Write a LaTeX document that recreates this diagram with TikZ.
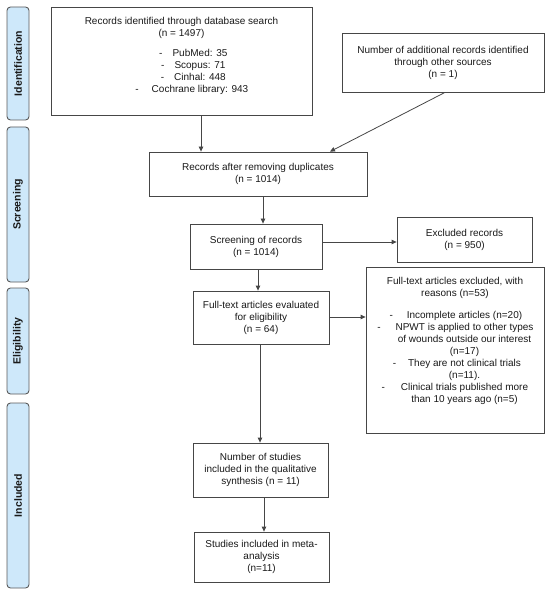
\documentclass[tikz,border=0pt]{standalone}
\usepackage{fontspec}
\setmainfont{Liberation Sans}
\usetikzlibrary{arrows.meta}
\definecolor{sidefill}{RGB}{206,232,250}
\definecolor{sideline}{RGB}{90,90,90}
\definecolor{boxline}{RGB}{70,70,70}
\definecolor{txtcol}{RGB}{25,25,25}
\newcommand{\pitem}[2]{\hspace*{#1pt}\llap{-\hspace{#2pt}}}
\tikzset{
  box/.style={draw=boxline, line width=0.8pt, inner sep=0pt, align=center,
    font=\fontsize{10}{12}\selectfont, text=txtcol},
  txt/.style={inner sep=0pt, align=center, font=\fontsize{10}{12}\selectfont, text=txtcol},
  side/.style={draw=sideline, fill=sidefill, line width=0.9pt, rounded corners=3.5pt,
    rotate=90, minimum height=22pt, inner sep=0pt,
    font=\fontsize{10.5}{12}\selectfont\bfseries, text=txtcol},
  arr/.style={draw=boxline, line width=0.8pt, -{Triangle[length=5pt,width=4.5pt]}}
}
\begin{document}
\begin{tikzpicture}[x=1pt,y=-1pt]
\useasboundingbox (0,0) rectangle (550,593);
% side labels
\node[side, minimum width=113pt] (s1) at (18,63.5) {Identification};
\node[side, minimum width=155pt] (s2) at (18,204.5) {Screening};
\node[side, minimum width=106pt] (s3) at (18,341) {Eligibility};
\node[side, minimum width=185pt] (s4) at (18,495.5) {Included};
% boxes
\node[box, minimum width=261pt, minimum height=108pt] (b1) at (181.5,61) {};
\node[txt, anchor=north] (b1t) at ([yshift=-10pt]b1.north) {Records identified through database search\\(n = 1497)\\[8pt]
\pitem{37}{10}PubMed: 35\\
\pitem{37}{10}Scopus: 71\\
\pitem{37}{10}Cinhal: 448\\
\pitem{37}{13}Cochrane library: 943};
\node[box, minimum width=202pt, minimum height=59pt] (b2) at (443,62.5) {Number of additional records identified\\through other sources\\(n = 1)};
\node[box, minimum width=218pt, minimum height=44pt] (b3) at (258,174) {Records after removing duplicates\\(n = 1014)};
\node[box, minimum width=132pt, minimum height=45pt] (b4) at (256,246.5) {Screening of records\\(n = 1014)};
\node[box, minimum width=136pt, minimum height=53pt] (b5) at (261,317.5) {Full-text articles evaluated\\for eligibility\\(n = 64)};
\node[box, minimum width=135pt, minimum height=45pt] (ex) at (464.5,239.5) {Excluded records\\(n = 950)};
\node[box, minimum width=178pt, minimum height=166pt] (fte) at (455,350) {};
\node[txt, anchor=north] (ftet) at ([yshift=-10pt]fte.north) {Full-text articles excluded, with\\reasons (n=53)\\[10pt]
\pitem{19}{14}Incomplete articles (n=20)\\
\pitem{19}{15}NPWT is applied to other types\\
\hspace*{19pt}of wounds outside our interest\\
\hspace*{19pt}(n=17)\\
\pitem{19}{12}They are not clinical trials\\
\hspace*{19pt}(n=11).\\
\pitem{19}{16}Clinical trials published more\\
\hspace*{19pt}than 10 years ago (n=5)};
\node[box, minimum width=135pt, minimum height=54pt] (b6) at (260.5,470) {Number of studies\\included in the qualitative\\synthesis (n = 11)};
\node[box, minimum width=135pt, minimum height=50pt] (b7) at (261.5,557) {Studies included in meta-\\analysis\\(n=11)};
% connectors
\draw[arr] (b1.south -| 201,0) -- (b3.north -| 201,0);
\draw[arr] ([xshift=2pt]b2.south) -- ([xshift=72pt]b3.north);
\draw[arr] (b3.south -| 263,0) -- (b4.north -| 263,0);
\draw[arr] (b4.east |- 0,242) -- (ex.west |- 0,242);
\draw[arr] (b4.south -| 258,0) -- (b5.north -| 258,0);
\draw[arr] (b5.east |- 0,317) -- (fte.west |- 0,317);
\draw[arr] (b5.south -| 260,0) -- (b6.north -| 260,0);
\draw[arr] (b6.south -| 264,0) -- (b7.north -| 264,0);
\end{tikzpicture}
\end{document}
